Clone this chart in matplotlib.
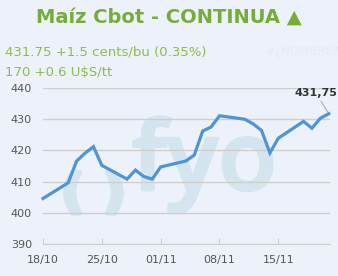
import numpy as np
import matplotlib
matplotlib.use('Agg')
import matplotlib.pyplot as plt
import matplotlib.dates as mdates
import matplotlib.patheffects as pe

# Daily closes (trading days), cents/bu
dates = np.array(['2024-10-18', '2024-10-21', '2024-10-22', '2024-10-23', '2024-10-24',
                  '2024-10-25', '2024-10-28', '2024-10-29', '2024-10-30', '2024-10-31',
                  '2024-11-01', '2024-11-04', '2024-11-05', '2024-11-06', '2024-11-07',
                  '2024-11-08', '2024-11-11', '2024-11-12', '2024-11-13', '2024-11-14',
                  '2024-11-15', '2024-11-18', '2024-11-19', '2024-11-20', '2024-11-21'],
                 dtype='datetime64[D]')
prices = [404.6, 409.6, 416.6, 419.1, 421.2,
          415.2, 410.8, 413.7, 411.6, 410.8,
          414.7, 416.6, 418.5, 426.2, 427.5,
          431.1, 430.0, 428.5, 426.4, 419.2,
          423.9, 429.3, 427.1, 430.3, 431.75]

title = 'Maíz Cbot - CONTINUA ▲'
line1 = '431.75 +1.5 cents/bu (0.35%)'
line2 = '170 +0.6 U$S/tt'
last_label = '431,75'
y_ticks = [390, 400, 410, 420, 430, 440]
x_ticks = np.array(['2024-10-18', '2024-10-25', '2024-11-01', '2024-11-08', '2024-11-15'],
                   dtype='datetime64[D]')

bg = '#edf1fa'
green = '#76ad3a'
green_lt = '#8cbd4e'
blue = '#4f95d5'
grey_txt = '#555555'
wm = '#d4e5f0'

W, H = 338, 276


def px(xp, yp):
    # pixel position (from top-left) -> figure fraction
    return xp / W, 1 - yp / H


fig = plt.figure(figsize=(W / 100, H / 100), dpi=100, facecolor=bg)

# watermark logo, behind the plot
thick = [pe.withStroke(linewidth=4, foreground=wm)]
fig.text(*px(62, 207), '(', ha='left', va='baseline', fontsize=33, fontweight='bold',
         color=wm, zorder=0, path_effects=thick)
fig.text(*px(104, 207), ')', ha='left', va='baseline', fontsize=33, fontweight='bold',
         color=wm, zorder=0, path_effects=thick)
fig.text(*px(132, 190), 'fyo', ha='left', va='baseline', fontsize=69,
         family='Open Sans', fontweight='semibold', color=wm, zorder=0,
         path_effects=[pe.withStroke(linewidth=2, foreground=wm)])

ax = fig.add_axes([43 / W, 1 - 244 / H, (330 - 43) / W, (244 - 88) / H])
ax.patch.set_alpha(0)
ax.set_zorder(2)

x = dates.astype('datetime64[ms]').astype(object)
xt = x_ticks.astype('datetime64[ms]').astype(object)

ax.plot(x, prices, color=blue, lw=2.3, solid_joinstyle='miter', zorder=3, clip_on=False)

ax.set_ylim(390, 440)
ax.set_xlim(x[0], x[-1] + (x[-1] - x[-2]) * 0.15)
ax.set_yticks(y_ticks)
ax.set_xticks(xt)
ax.xaxis.set_major_formatter(mdates.DateFormatter('%d/%m'))
ax.grid(axis='y', color='#cfcfcf', lw=1)
ax.set_axisbelow(True)
for s in ['top', 'right', 'left']:
    ax.spines[s].set_visible(False)
ax.spines['bottom'].set_color('#cfcfcf')
ax.tick_params(axis='y', length=0, labelsize=8, labelcolor=grey_txt, pad=8)
ax.tick_params(axis='x', length=4, direction='in', color='#cfcfcf', labelsize=8,
               labelcolor=grey_txt, pad=8)

# last value label
ax.annotate(last_label, xy=(x[-1], prices[-1]), xytext=(-9, 11), textcoords='offset points',
            ha='center', va='bottom', fontsize=8, fontweight='bold', color='#333333',
            arrowprops=dict(arrowstyle='-', color='#aaaaaa', lw=0.8, shrinkA=0, shrinkB=1))

fig.text(0.5, 1 - 17 / H, title, ha='center', va='center', fontsize=14,
         fontweight='bold', color=green)
fig.text(5 / W, 1 - 52 / H, line1, ha='left', va='center', fontsize=9.5, color=green_lt)
fig.text(5 / W, 1 - 72 / H, line2, ha='left', va='center', fontsize=9.5, color=green_lt)
fig.text(265 / W, 1 - 52 / H, '#¿NOMBRE?', ha='left', va='center', fontsize=8.5,
         color='#e6eaf3')

fig.savefig('out.png', dpi=100, facecolor=bg)
